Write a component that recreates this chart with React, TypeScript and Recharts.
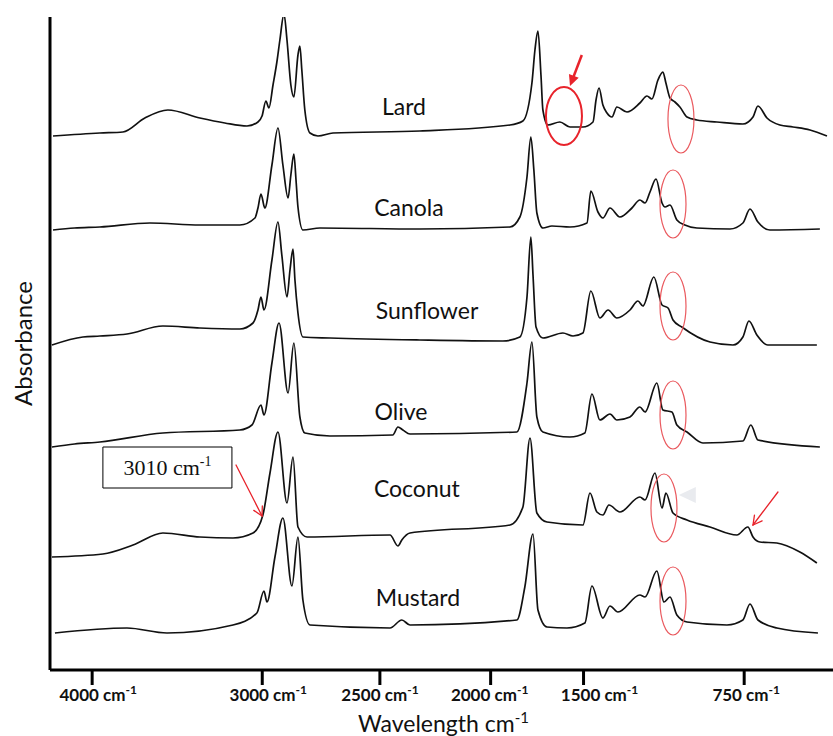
import { LineChart, Line, XAxis, YAxis, ReferenceDot, ReferenceLine, ReferenceArea, Label } from "recharts"

/* ---------- spectra: [wavenumber cm-1, absorbance above own baseline] ---------- */
const lard: [number, number][] = [
  [4000, 0], [3782, 0.03], [3675, 0.04], [3573, 0.18], [3466, 0.26], [3317, 0.18], [3201, 0.13], [3098, 0.1],
  [3047, 0.14], [3028, 0.2], [3010, 0.35], [2996, 0.28], [2977, 0.51], [2959, 0.74], [2945, 0.96], [2926, 1.22],
  [2912, 0.96], [2894, 0.51], [2880, 0.39], [2861, 0.81], [2852, 0.9], [2843, 0.66], [2829, 0.26], [2805, 0.03],
  [2768, 0], [2698, 0.03], [2294, 0.05], [1875, 0.11], [1815, 0.15], [1773, 0.53], [1759, 0.86], [1745, 1.05],
  [1731, 0.61], [1722, 0.26], [1699, 0.11], [1643, 0.14], [1596, 0.09], [1536, 0.09], [1489, 0.14], [1475, 0.36],
  [1461, 0.48], [1443, 0.31], [1424, 0.23], [1401, 0.19], [1378, 0.29], [1331, 0.24], [1271, 0.33], [1238, 0.4],
  [1215, 0.37], [1187, 0.56], [1164, 0.64], [1150, 0.53], [1131, 0.38], [1108, 0.34], [1085, 0.29], [1052, 0.19],
  [1006, 0.16], [913, 0.14], [792, 0.12], [745, 0.19], [722, 0.3], [680, 0.18], [620, 0.11], [559, 0.09],
  [480, 0.06], [401, 0],
]

const canola: [number, number][] = [
  [4000, 0], [3900, 0.02], [3782, 0.03], [3549, 0.07], [3317, 0.05], [3131, 0.05], [3061, 0.12], [3047, 0.22],
  [3033, 0.36], [3015, 0.22], [2982, 0.65], [2954, 1.02], [2931, 0.65], [2907, 0.32], [2894, 0.55], [2880, 0.76],
  [2870, 0.5], [2861, 0.23], [2838, 0], [2759, 0.02], [2294, 0.01], [1875, 0.03], [1829, 0.13], [1796, 0.53],
  [1778, 0.93], [1764, 0.6], [1750, 0.17], [1722, 0.02], [1680, 0.04], [1596, 0.03], [1517, 0.07], [1499, 0.39],
  [1466, 0.18], [1443, 0.12], [1410, 0.22], [1364, 0.13], [1308, 0.22], [1271, 0.3], [1247, 0.27], [1224, 0.38],
  [1196, 0.51], [1168, 0.27], [1154, 0.23], [1131, 0.25], [1099, 0.1], [1062, 0.05], [1006, 0.02], [852, 0.01],
  [792, 0.07], [759, 0.21], [722, 0.08], [666, 0], [434, 0.01],
]

const sunflower: [number, number][] = [
  [4005, 0], [3861, 0.08], [3782, 0.09], [3656, 0.11],
  [3489, 0.19], [3317, 0.17], [3131, 0.16], [3070, 0.22], [3047, 0.35], [3033, 0.48], [3019, 0.35], [2982, 0.85],
  [2954, 1.23], [2936, 0.9], [2912, 0.48], [2898, 0.75], [2884, 0.96], [2875, 0.65], [2861, 0.32], [2838, 0.08],
  [2712, 0.07], [2294, 0.05], [1908, 0.04], [1829, 0.08], [1796, 0.48], [1778, 1.08], [1768, 0.7], [1754, 0.18],
  [1722, 0.07], [1629, 0.12], [1582, 0.09], [1536, 0.12], [1499, 0.54], [1457, 0.27], [1419, 0.35], [1378, 0.27],
  [1317, 0.35], [1280, 0.44], [1257, 0.39], [1206, 0.68], [1168, 0.4], [1140, 0.37], [1117, 0.25], [1076, 0.18],
  [945, 0.03], [838, 0], [792, 0.08], [764, 0.24], [727, 0.1], [676, 0], [448, 0],
]

const olive: [number, number][] = [
  [4005, 0], [3900, 0.03], [3782, 0.05], [3489, 0.14], [3131, 0.17], [3075, 0.22], [3033, 0.42], [3019, 0.32],
  [2982, 0.84], [2949, 1.24], [2907, 0.54], [2880, 1.04], [2852, 0.3], [2829, 0.14], [2712, 0.11], [2420, 0.12],
  [2396, 0.2], [2373, 0.17], [2340, 0.13], [1843, 0.15], [1796, 0.64], [1773, 1.05], [1750, 0.3], [1722, 0.15],
  [1596, 0.1], [1527, 0.14], [1494, 0.53], [1457, 0.27], [1410, 0.33], [1378, 0.27], [1317, 0.3], [1271, 0.4],
  [1247, 0.35], [1192, 0.64], [1164, 0.37], [1122, 0.35], [1099, 0.22], [1052, 0.15], [978, 0.04], [792, 0.06],
  [755, 0.22], [722, 0.07], [434, 0],
]

const coconut: [number, number][] = [
  [4005, 0], [3768, 0.03], [3628, 0.12], [3489, 0.24], [3317, 0.2], [3163, 0.19], [3070, 0.24], [3024, 0.42],
  [2991, 0.84], [2954, 1.25], [2912, 0.54], [2884, 1.0], [2861, 0.3], [2819, 0.2], [2433, 0.22], [2396, 0.11],
  [2378, 0.17], [2340, 0.24], [1875, 0.32], [1815, 0.5], [1782, 1.19], [1750, 0.44], [1703, 0.35], [1536, 0.32],
  [1503, 0.64], [1471, 0.45], [1443, 0.42], [1415, 0.52], [1364, 0.45], [1271, 0.6], [1247, 0.57], [1201, 0.84],
  [1168, 0.49], [1150, 0.64], [1117, 0.44], [1052, 0.37], [945, 0.3], [820, 0.22], [769, 0.3], [745, 0.2],
  [713, 0.15], [634, 0.14], [527, 0.05], [448, -0.06],
]

const mustard: [number, number][] = [
  [3991, 0], [3656, 0.05], [3470, 0], [3163, 0.08], [3052, 0.2], [3019, 0.42], [3005, 0.31], [2968, 0.76],
  [2931, 1.15], [2889, 0.47], [2861, 0.96], [2838, 0.33], [2805, 0.08], [2433, 0.05], [2378, 0.13], [2340, 0.08],
  [1843, 0.13], [1806, 0.46], [1768, 0.99], [1745, 0.23], [1703, 0.06], [1610, 0.05], [1527, 0.1], [1494, 0.47],
  [1443, 0.15], [1410, 0.27], [1373, 0.21], [1271, 0.38], [1247, 0.36], [1192, 0.62], [1159, 0.31], [1131, 0.36],
  [1099, 0.18], [1052, 0.11], [866, 0.08], [792, 0.13], [759, 0.29], [722, 0.13], [634, 0.05], [443, 0],
]

const oilNames = ["Lard", "Canola", "Sunflower", "Olive", "Coconut", "Mustard"]
const spectra = [lard, canola, sunflower, olive, coconut, mustard]
// vertical stacking offset of each trace (absorbance units)
const offsets = [5.34, 4.4, 3.25, 2.23, 1.13, 0.37]
// where each name sits: [wavenumber, stacked absorbance]
const namePos: [number, number][] = [
  [2368, 5.64], [2345, 4.63], [2261, 3.6], [2382, 2.59], [2308, 1.825], [2303, 0.73],
]

/* ---------- axis ---------- */
const tickValues = [3818, 3027, 2480, 1965, 1533, 786]
const tickLabels = ["4000", "3000", "2500", "2000", "1500", "750"]
const labelNudge = [6, 6, 0, -1, 16, 2]

/* ---------- annotations ---------- */
const thinRings: [number, number][] = [
  [1080, 5.51], [1117, 4.66], [1117, 3.64], [1117, 2.55], [1159, 1.62], [1117, 0.69],
]
const boldRing: [number, number] = [1624, 5.54]

const FONT = "Lato, 'Open Sans', sans-serif"
const RED = "#e8232b"

const traces = spectra.map((pts, i) =>
  pts.map(([wn, a]) => ({ wn, y: +(a + offsets[i]).toFixed(3) }))
)

function arrowShape(filled: boolean, width: number) {
  return (p: any) => {
    const { x1, y1, x2, y2 } = p
    const ang = Math.atan2(y2 - y1, x2 - x1)
    const len = filled ? 12 : 10
    const spread = filled ? 0.45 : 0.5
    const ax = x2 - len * Math.cos(ang - spread)
    const ay = y2 - len * Math.sin(ang - spread)
    const bx = x2 - len * Math.cos(ang + spread)
    const by = y2 - len * Math.sin(ang + spread)
    if (filled) {
      const mx = x2 - len * 0.8 * Math.cos(ang)
      const my = y2 - len * 0.8 * Math.sin(ang)
      return (
        <g>
          <line x1={x1} y1={y1} x2={mx} y2={my} stroke={RED} strokeWidth={width} />
          <polygon points={`${x2},${y2} ${ax},${ay} ${bx},${by}`} fill={RED} />
        </g>
      )
    }
    return (
      <g fill="none" stroke={RED} strokeWidth={width} strokeLinecap="round">
        <line x1={x1} y1={y1} x2={x2} y2={y2} />
        <polyline points={`${ax},${ay} ${x2},${y2} ${bx},${by}`} />
      </g>
    )
  }
}

const WnTick = (props: any) => {
  const { x, y, payload } = props
  const i = tickValues.indexOf(payload.value)
  return (
    <text x={x + (labelNudge[i] || 0)} y={y + 14} textAnchor="middle" fontFamily={FONT} fontWeight={700} fontSize={17} fill="#111">
      <tspan>{tickLabels[i]} cm</tspan>
      <tspan dy={-7} fontSize={12}>-1</tspan>
    </text>
  )
}

export default function App() {
  return (
    <div style={{ position: "absolute", left: 0, top: 0, background: "#fff" }}>
      <LineChart width={833} height={736} margin={{ top: 17, right: 0, left: 49, bottom: 0 }}>
        <XAxis
          type="number"
          dataKey="wn"
          domain={[373, 4014]}
          reversed
          allowDataOverflow
          ticks={tickValues}
          tick={WnTick}
          tickSize={15}
          tickMargin={2}
          height={66}
          axisLine={{ stroke: "#000", strokeWidth: 3 }}
          tickLine={{ stroke: "#000", strokeWidth: 3 }}
        >
          <Label
            content={(p: any) => (
              <text x={p.viewBox.x + p.viewBox.width / 2 + 2} y={732} textAnchor="middle" fontFamily={FONT} fontSize={23} fill="#111">
                <tspan>Wavelength cm</tspan>
                <tspan dy={-9} fontSize={15}>-1</tspan>
              </text>
            )}
          />
        </XAxis>
        <YAxis
          type="number"
          domain={[0, 6.53]}
          allowDataOverflow
          width={1}
          tick={false}
          tickLine={false}
          axisLine={{ stroke: "#000", strokeWidth: 3 }}
        >
          <Label
            content={(p: any) => {
              const cx = 22
              const cy = p.viewBox.y + p.viewBox.height / 2
              return (
                <text x={cx} y={cy} transform={`rotate(-90 ${cx} ${cy})`} textAnchor="middle" dominantBaseline="central" fontFamily={FONT} fontSize={24} fill="#111">
                  Absorbance
                </text>
              )
            }}
          />
        </YAxis>

        {traces.map((d, i) => (
          <Line
            key={oilNames[i]}
            data={d}
            dataKey="y"
            type="monotone"
            dot={false}
            stroke="#111"
            strokeWidth={1.7}
            strokeLinejoin="round"
            isAnimationActive={false}
          />
        ))}

        {oilNames.map((n, i) => (
          <ReferenceDot
            key={n}
            x={namePos[i][0]}
            y={namePos[i][1]}
            r={0}
            shape={(p: any) => (
              <text x={p.cx} y={p.cy} textAnchor="middle" dominantBaseline="central" fontFamily={FONT} fontSize={23} fill="#111">
                {n}
              </text>
            )}
          />
        ))}

        {thinRings.map(([wn, y], i) => (
          <ReferenceDot
            key={`ring-${i}`}
            x={wn}
            y={y}
            r={0}
            shape={(p: any) => <ellipse cx={p.cx} cy={p.cy} rx={13} ry={34} fill="none" stroke="#ea5a5f" strokeWidth={1.2} />}
          />
        ))}
        <ReferenceDot
          x={boldRing[0]}
          y={boldRing[1]}
          r={0}
          shape={(p: any) => <ellipse cx={p.cx} cy={p.cy} rx={18} ry={29} fill="none" stroke={RED} strokeWidth={2} />}
        />
        <ReferenceDot
          x={1048}
          y={1.75}
          r={0}
          shape={(p: any) => (
            <polygon points={`${p.cx - 9},${p.cy} ${p.cx + 8},${p.cy - 8} ${p.cx + 8},${p.cy + 8}`} fill="#e9ebef" />
          )}
        />

        <ReferenceLine segment={[{ x: 1541, y: 6.15 }, { x: 1596, y: 5.84 }]} shape={arrowShape(true, 2.5)} />
        <ReferenceLine segment={[{ x: 3149, y: 2.05 }, { x: 3028, y: 1.54 }]} shape={arrowShape(false, 1.3)} />
        <ReferenceLine segment={[{ x: 629, y: 1.78 }, { x: 745, y: 1.45 }]} shape={arrowShape(false, 1.3)} />

        <ReferenceArea
          x1={3768}
          x2={3168}
          y1={1.82}
          y2={2.23}
          fill="#fff"
          fillOpacity={1}
          stroke="#000"
          strokeWidth={1}
          label={(p: any) => {
            const vb = p.viewBox
            return (
              <text x={vb.x + vb.width / 2} y={vb.y + 28} textAnchor="middle" fontFamily="'Liberation Serif', 'Times New Roman', serif" fontSize={22} fill="#111">
                <tspan>3010 cm</tspan>
                <tspan dy={-9} fontSize={14}>-1</tspan>
              </text>
            )
          }}
        />
      </LineChart>
    </div>
  )
}
